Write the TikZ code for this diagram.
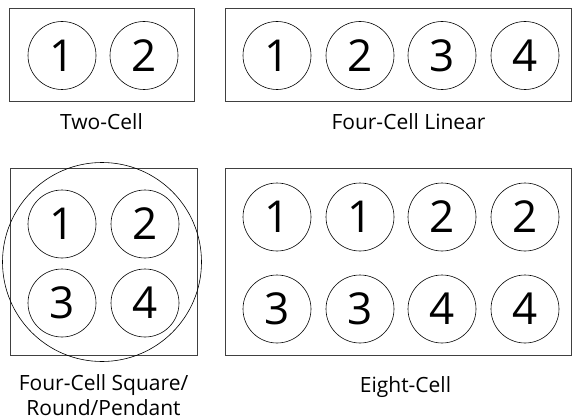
\documentclass[tikz,border=0pt]{standalone}
\usepackage{fontspec}
\setmainfont{Open Sans}
\usetikzlibrary{positioning}

\begin{document}
\begin{tikzpicture}[x=1pt, y=-1pt,
  cellbox/.style={draw, black!75, line width=0.9pt, inner sep=0pt},
  cell/.style={draw, circle, line width=0.6pt, minimum size=68pt, inner sep=0pt,
               font=\fontsize{44}{44}\selectfont},
  pack/.style={draw, circle, line width=0.6pt, minimum size=199pt, inner sep=0pt},
  lbl/.style={font=\fontsize{21}{25}\selectfont, align=center},
]
  \useasboundingbox (0,0) rectangle (573,420);
  % two-cell
  \node[cellbox, minimum width=185pt, minimum height=93pt] (twobox) at (101.5,54.5) {};
  \node[cell] (t1) at (62,55.5) {1};
  \node[cell] (t2) at (144,55.5) {2};
  \node[lbl] (twolbl) at (101.5,122) {Two-Cell};
  % four-cell linear
  \node[cellbox, minimum width=346pt, minimum height=93pt] (linbox) at (398,54.5) {};
  \node[cell] (l1) at (277,55.5) {1};
  \node[cell] (l2) at (360,55.5) {2};
  \node[cell] (l3) at (442,55.5) {3};
  \node[cell] (l4) at (525,55.5) {4};
  \node[lbl] (linlbl) at (408.5,122) {Four-Cell Linear};
  % four-cell square / round
  \node[cellbox, minimum width=187pt, minimum height=187pt] (sqbox) at (103.5,261.5) {};
  \node[pack] (round) at (102,262) {};
  \node[cell] (s1) at (62,224) {1};
  \node[cell] (s2) at (145,224) {2};
  \node[cell] (s3) at (62,303) {3};
  \node[cell] (s4) at (145,303) {4};
  \node[lbl] (sqlbl) at (103.5,395.5) {Four-Cell Square/\\Round/Pendant};
  % eight-cell
  \node[cellbox, minimum width=346pt, minimum height=187pt] (eightbox) at (398,261.5) {};
  \node[cell] (e1) at (277,217) {1};
  \node[cell] (e2) at (360,217) {1};
  \node[cell] (e3) at (442,217) {2};
  \node[cell] (e4) at (525,217) {2};
  \node[cell] (e5) at (277,309) {3};
  \node[cell] (e6) at (360,309) {3};
  \node[cell] (e7) at (442,309) {4};
  \node[cell] (e8) at (525,309) {4};
  \node[lbl] (eightlbl) at (405.5,387) {Eight-Cell};
\end{tikzpicture}
\end{document}
